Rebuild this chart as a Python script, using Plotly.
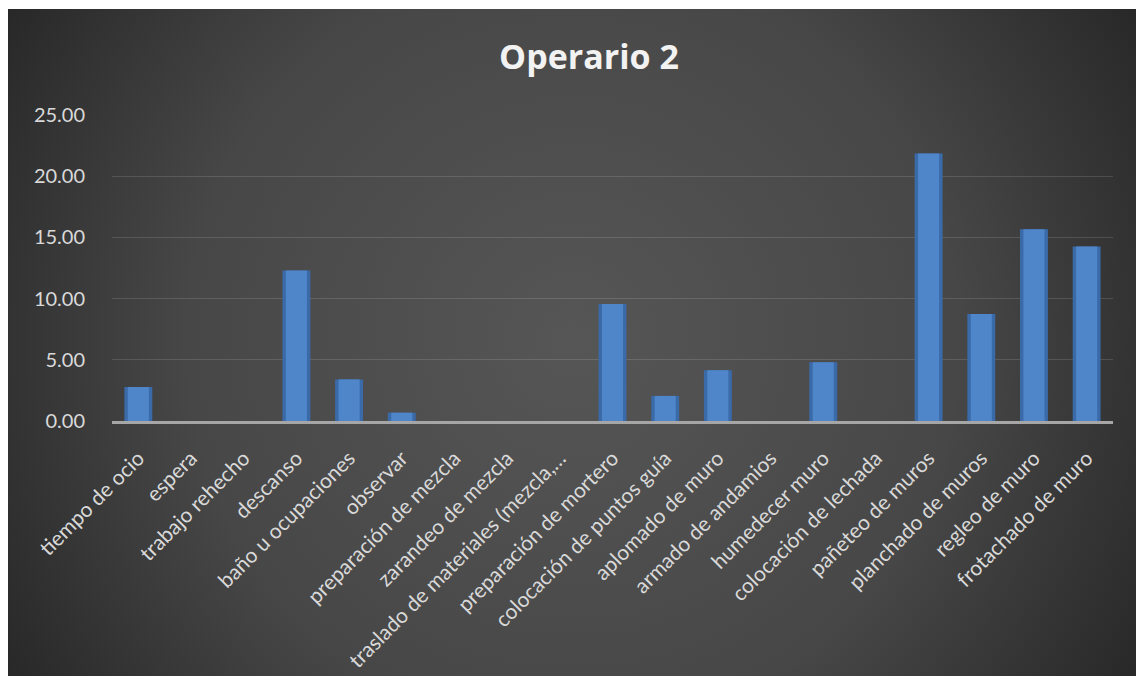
import base64
import plotly.graph_objects as go

categories = [
    "tiempo de ocio", "espera", "trabajo rehecho", "descanso", "baño u ocupaciones",
    "observar", "preparación de mezcla", "zarandeo de mezcla",
    "traslado de materiales (mezcla,…", "preparación de mortero",
    "colocación de puntos guía", "aplomado de muro", "armado de andamios",
    "humedecer muro", "colocación de lechada", "pañeteo de muros",
    "planchado de muros", "regleo de muro", "frotachado de muro",
]
values = [2.78, 0, 0, 12.3, 3.4, 0.68, 0, 0, 0, 9.55, 2.05, 4.15, 0, 4.8, 0, 21.85, 8.75, 15.66, 14.26]
y_ticks = [0, 5, 10, 15, 20, 25]
title_text = "Operario 2"

OFF = 8  # page body margin
W, H = 1144 - OFF, 684 - OFF
L, R, T, B = 112 - OFF, 1113 - OFF, 115 - OFF, 421 - OFF  # plot area in figure px

# background gradient (svg data uri)
bx0, by0, bx1, by1 = 0, 9 - OFF, 1137 - OFF, 676 - OFF
bw, bh = bx1 - bx0, by1 - by0
svg = f'''<svg xmlns="http://www.w3.org/2000/svg" width="{bw}" height="{bh}" viewBox="0 0 {bw} {bh}" preserveAspectRatio="none">
<defs><radialGradient id="g" gradientUnits="userSpaceOnUse" cx="{bw*0.5}" cy="{bh*0.5}" r="{bw*0.62}">
<stop offset="0" stop-color="#565656"/><stop offset="0.55" stop-color="#474747"/><stop offset="1" stop-color="#232323"/></radialGradient></defs>
<rect width="{bw}" height="{bh}" fill="url(#g)"/></svg>'''
uri = "data:image/svg+xml;base64," + base64.b64encode(svg.encode()).decode()

pw, ph = R - L, B - T
fig = go.Figure()
fig.add_trace(go.Bar(
    x=categories, y=values,
    marker=dict(color="#3a6aa8", line=dict(width=0)),
    width=0.53, hoverinfo="skip",
))
fig.add_trace(go.Bar(
    x=categories, y=values,
    marker=dict(color="#4f86ca", line=dict(width=0)),
    width=0.40,
))
fig.add_layout_image(dict(
    source=uri, xref="paper", yref="paper",
    x=(bx0 - L) / pw, y=(B - by0) / ph,
    sizex=bw / pw, sizey=bh / ph,
    xanchor="left", yanchor="top", sizing="stretch", layer="below",
))
fig.update_layout(
    width=W, height=H,
    margin=dict(l=L, r=W - R, t=T, b=H - B, pad=0, autoexpand=False),
    paper_bgcolor="white", plot_bgcolor="rgba(0,0,0,0)",
    barmode="overlay",
    title=dict(text=f"<b>{title_text}</b>", x=(589 - OFF) / W, xref="container", xanchor="center",
               y=1 - (57 - OFF) / H, yref="container", yanchor="middle",
               font=dict(family="Open Sans", size=34, color="#f2f2f2")),
    font=dict(family="Lato", size=20, color="#d9d9d9"),
    showlegend=False,
)
fig.update_yaxes(range=[0, 25], tickvals=y_ticks, tickformat=".2f", automargin=False,
                 showgrid=True, gridcolor="rgba(255,255,255,0.13)", gridwidth=1,
                 zeroline=False, showline=False, ticks="outside", ticklen=0,
                 ticklabelstandoff=22, tickfont=dict(size=20, color="#d9d9d9"))
fig.update_xaxes(tickangle=-45, showline=True, linecolor="#a6a6a6", linewidth=2.5, automargin=False,
                 showgrid=False, ticks="outside", ticklen=0, ticklabelstandoff=14,
                 tickfont=dict(size=21, color="#d9d9d9"))
fig.write_html("out.html")
